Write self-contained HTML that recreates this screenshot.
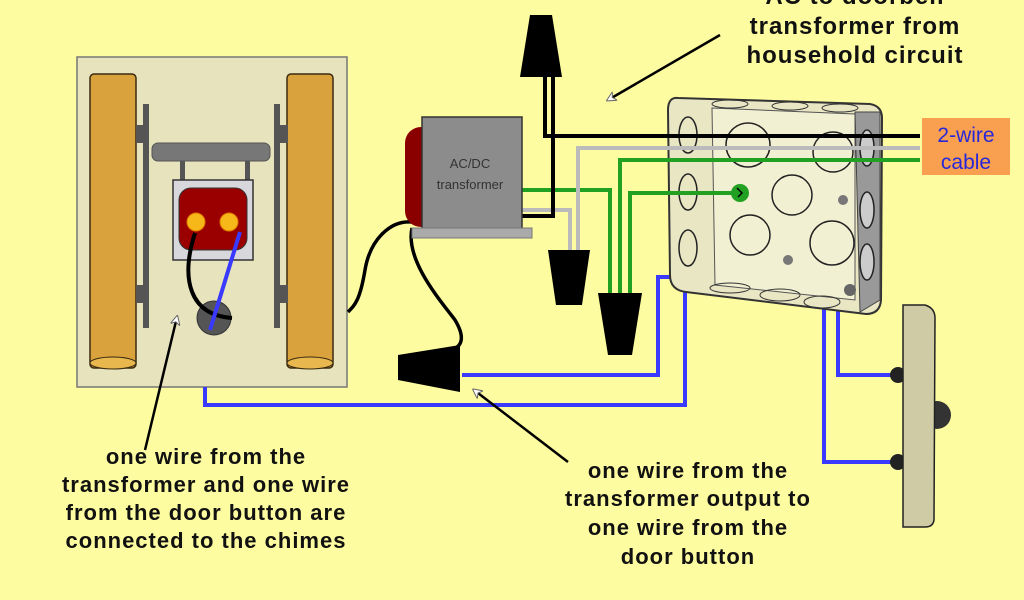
<!DOCTYPE html>
<html><head><style>
html,body{margin:0;padding:0;background:#fefca0;}
svg{display:block;}
text{font-family:"Liberation Sans",Arial,sans-serif;font-weight:bold;}
</style></head><body>
<svg width="1024" height="600" viewBox="0 0 1024 600" xmlns="http://www.w3.org/2000/svg">
<defs>
<marker id="ah" markerWidth="10" markerHeight="10" refX="8" refY="5" orient="auto" markerUnits="userSpaceOnUse">
<path d="M0,0 L10,5 L0,10 L3,5 Z" fill="#fff" stroke="#666" stroke-width="1"/>
</marker>
</defs>
<rect width="1024" height="600" fill="#fefca0"/>

<!-- chime board -->
<rect x="77" y="57" width="270" height="330" fill="#e6e3bd" stroke="#777" stroke-width="1.5"/>
<rect x="90" y="74" width="46" height="294" rx="4" fill="#d9a23c" stroke="#3a2a10" stroke-width="1.5"/>
<ellipse cx="113" cy="363" rx="23" ry="6" fill="#e8b84e" stroke="#3a2a10"/>
<rect x="287" y="74" width="46" height="294" rx="4" fill="#d9a23c" stroke="#3a2a10" stroke-width="1.5"/>
<ellipse cx="310" cy="363" rx="23" ry="6" fill="#e8b84e" stroke="#3a2a10"/>
<rect x="143" y="104" width="6" height="224" fill="#555"/>
<rect x="136" y="125" width="8" height="18" fill="#555"/>
<rect x="136" y="285" width="8" height="18" fill="#555"/>
<rect x="274" y="104" width="6" height="224" fill="#555"/>
<rect x="280" y="125" width="8" height="18" fill="#555"/>
<rect x="280" y="285" width="8" height="18" fill="#555"/>
<rect x="152" y="143" width="118" height="18" rx="6" fill="#777" stroke="#555"/>
<rect x="180" y="161" width="5" height="20" fill="#555"/>
<rect x="245" y="161" width="5" height="20" fill="#555"/>
<rect x="173" y="180" width="80" height="80" fill="#d8d8dc" stroke="#333" stroke-width="1.5"/>
<rect x="179" y="188" width="68" height="62" rx="12" fill="#9b0000" stroke="#333"/>
<circle cx="196" cy="222" r="9" fill="#f6b818" stroke="#e07800"/>
<circle cx="229" cy="222" r="9" fill="#f6b818" stroke="#e07800"/>
<circle cx="214" cy="318" r="17" fill="#555" stroke="#333"/>
<path d="M195,233 C180,280 190,315 232,318" fill="none" stroke="#000" stroke-width="4"/>
<line x1="240" y1="232" x2="210" y2="330" stroke="#3a3aff" stroke-width="4"/>

<!-- transformer to chime black wire -->
<path d="M412,222 C390,220 370,240 365,270 C360,300 355,305 348,312" fill="none" stroke="#000" stroke-width="3.5"/>
<path d="M412,228 C405,260 440,300 455,320 C470,345 455,350 445,352" fill="none" stroke="#000" stroke-width="3.5"/>

<!-- blue wires -->
<polyline points="462,375 658,375 658,277 824,277 824,462 893,462" fill="none" stroke="#3a3aff" stroke-width="4"/>
<polyline points="205,387 205,405 685,405 685,287 838,287 838,375 893,375" fill="none" stroke="#3a3aff" stroke-width="4"/>

<!-- junction box -->
<path d="M678,98 L870,104 Q882,106 882,118 L881,300 Q880,314 866,314 L686,292 Q670,290 670,275 L668,110 Q668,97 678,98 Z" fill="#e9e6c4" stroke="#333" stroke-width="2"/>
<path d="M712,108 L855,114 L855,300 L715,285 Z" fill="#f2f0d2" stroke="#555" stroke-width="1"/>
<path d="M855,112 L880,112 L880,300 L860,312 Z" fill="#999" stroke="#444"/>
<ellipse cx="688" cy="135" rx="9" ry="18" fill="none" stroke="#222" stroke-width="1.5"/>
<ellipse cx="688" cy="192" rx="9" ry="18" fill="none" stroke="#222" stroke-width="1.5"/>
<ellipse cx="688" cy="248" rx="9" ry="18" fill="none" stroke="#222" stroke-width="1.5"/>
<ellipse cx="867" cy="148" rx="7" ry="18" fill="#ccc" stroke="#222" stroke-width="1.5"/>
<ellipse cx="867" cy="210" rx="7" ry="18" fill="#ccc" stroke="#222" stroke-width="1.5"/>
<ellipse cx="867" cy="262" rx="7" ry="18" fill="#ccc" stroke="#222" stroke-width="1.5"/>
<ellipse cx="730" cy="104" rx="18" ry="4" fill="none" stroke="#333"/>
<ellipse cx="790" cy="106" rx="18" ry="4" fill="none" stroke="#333"/>
<ellipse cx="840" cy="108" rx="18" ry="4" fill="none" stroke="#333"/>
<ellipse cx="730" cy="288" rx="20" ry="5" fill="none" stroke="#333"/>
<ellipse cx="780" cy="295" rx="20" ry="6" fill="none" stroke="#333"/>
<ellipse cx="822" cy="302" rx="18" ry="6" fill="none" stroke="#333"/>
<circle cx="748" cy="145" r="22" fill="none" stroke="#222" stroke-width="1.5"/>
<circle cx="833" cy="152" r="20" fill="none" stroke="#222" stroke-width="1.5"/>
<circle cx="792" cy="195" r="20" fill="none" stroke="#222" stroke-width="1.5"/>
<circle cx="750" cy="235" r="20" fill="none" stroke="#222" stroke-width="1.5"/>
<circle cx="832" cy="243" r="22" fill="none" stroke="#222" stroke-width="1.5"/>
<circle cx="843" cy="200" r="5" fill="#777"/>
<circle cx="788" cy="260" r="5" fill="#777"/>
<circle cx="850" cy="290" r="6" fill="#666"/>

<!-- green wires -->
<polyline points="920,160 620,160 620,295" fill="none" stroke="#22a022" stroke-width="4"/>
<polyline points="738,193 630,193 630,295" fill="none" stroke="#22a022" stroke-width="4"/>
<polyline points="522,190 610,190 610,295" fill="none" stroke="#22a022" stroke-width="4"/>
<circle cx="740" cy="193" r="9" fill="#22a022"/>
<path d="M737,188 L742,193 L738,197" stroke="#000" fill="none" stroke-width="1.5"/>
<!-- grey wires -->
<polyline points="920,148 578,148 578,252" fill="none" stroke="#bbbbbb" stroke-width="4"/>
<polyline points="522,210 570,210 570,252" fill="none" stroke="#bbbbbb" stroke-width="4"/>
<!-- black wires -->
<polyline points="545,75 545,136 920,136" fill="none" stroke="#000" stroke-width="4"/>
<polyline points="553,75 553,216 522,216" fill="none" stroke="#000" stroke-width="4"/>

<!-- transformer -->
<rect x="405" y="127" width="105" height="100" rx="16" fill="#8a0000"/>
<rect x="422" y="117" width="100" height="112" fill="#8c8c8c" stroke="#333" stroke-width="1.5"/>
<rect x="412" y="228" width="120" height="10" fill="#aaa" stroke="#777"/>
<text x="470" y="168" font-size="13" text-anchor="middle" fill="#333" style="font-weight:normal">AC/DC</text>
<text x="470" y="189" font-size="13" text-anchor="middle" fill="#333" style="font-weight:normal">transformer</text>

<!-- wire nuts -->
<path d="M530,15 L552,15 L562,77 L520,77 Z" fill="#000"/>
<path d="M548,250 L590,250 L582,305 L556,305 Z" fill="#000"/>
<path d="M598,293 L642,293 L632,355 L608,355 Z" fill="#000"/>
<path d="M398,355 L460,345 L460,392 L398,380 Z" fill="#000"/>

<!-- door button -->
<circle cx="898" cy="375" r="8" fill="#222"/>
<circle cx="898" cy="462" r="8" fill="#222"/>
<circle cx="937" cy="415" r="14" fill="#333"/>
<path d="M903,305 L925,305 Q935,308 935,318 L934,520 Q933,527 925,527 L903,527 Z" fill="#cfcca5" stroke="#222" stroke-width="1.5"/>

<!-- 2-wire cable label -->
<rect x="922" y="118" width="88" height="57" fill="#f8a050"/>
<text x="966" y="142" font-size="21" text-anchor="middle" fill="#2828d8" style="font-weight:normal">2-wire</text>
<text x="966" y="169" font-size="21" text-anchor="middle" fill="#2828d8" style="font-weight:normal">cable</text>

<!-- top text -->
<g font-size="24" letter-spacing="1" text-anchor="middle" fill="#111">
<text x="855" y="4">AC to doorbell</text>
<text x="855" y="34">transformer from</text>
<text x="855" y="63">household circuit</text>
</g>
<line x1="720" y1="35" x2="608" y2="100" stroke="#000" stroke-width="2.5" marker-end="url(#ah)"/>

<!-- left text -->
<line x1="145" y1="450" x2="177" y2="317" stroke="#000" stroke-width="2.5" marker-end="url(#ah)"/>
<g font-size="22" letter-spacing="1" text-anchor="middle" fill="#111">
<text x="206" y="464">one wire from the</text>
<text x="206" y="492">transformer and one wire</text>
<text x="206" y="520">from the door button are</text>
<text x="206" y="548">connected to the chimes</text>
</g>

<!-- right text -->
<line x1="568" y1="462" x2="474" y2="390" stroke="#000" stroke-width="2.5" marker-end="url(#ah)"/>
<g font-size="22" letter-spacing="1" text-anchor="middle" fill="#111">
<text x="688" y="478">one wire from the</text>
<text x="688" y="506">transformer output to</text>
<text x="688" y="535">one wire from the</text>
<text x="688" y="564">door button</text>
</g>
</svg>
</body></html>
